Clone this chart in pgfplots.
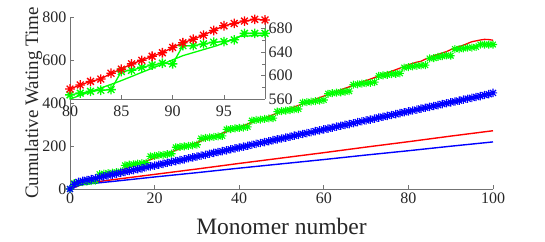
\documentclass[border=0pt]{standalone}
\usepackage{fontspec}
\setmainfont{Liberation Serif}
\usepackage{pgfplots}
\usepackage{pgfplotstable}
\pgfplotsset{compat=1.18}
\definecolor{axgray}{gray}{0.45}
\definecolor{txtgray}{gray}{0.15}
\definecolor{mred}{rgb}{1,0,0}
\definecolor{mgreen}{rgb}{0,1,0}
\definecolor{mblue}{rgb}{0,0,1}
\pgfdeclareplotmark{mstar}{%
  \pgfpathmoveto{\pgfqpoint{-\pgfplotmarksize}{0pt}}\pgfpathlineto{\pgfqpoint{\pgfplotmarksize}{0pt}}%
  \pgfpathmoveto{\pgfqpoint{0pt}{-\pgfplotmarksize}}\pgfpathlineto{\pgfqpoint{0pt}{\pgfplotmarksize}}%
  \pgfpathmoveto{\pgfqpoint{-0.707\pgfplotmarksize}{-0.707\pgfplotmarksize}}\pgfpathlineto{\pgfqpoint{0.707\pgfplotmarksize}{0.707\pgfplotmarksize}}%
  \pgfpathmoveto{\pgfqpoint{-0.707\pgfplotmarksize}{0.707\pgfplotmarksize}}\pgfpathlineto{\pgfqpoint{0.707\pgfplotmarksize}{-0.707\pgfplotmarksize}}%
  \pgfusepathqstroke}

% green stars (stepped)
\pgfplotstableread{
x y
0 0
1 27
2 30
3 32
4 34
5 37
6 39
7 69
8 71
9 74
10 76
11 78
12 81
13 110
14 113
15 115
16 118
17 120
18 122
19 152
20 154
21 157
22 159
23 162
24 164
25 194
26 196
27 198
28 201
29 203
30 206
31 235
32 238
33 240
34 242
35 245
36 247
37 277
38 279
39 282
40 284
41 286
42 289
43 318
44 321
45 323
46 326
47 328
48 330
49 360
50 362
51 365
52 367
53 370
54 372
55 402
56 404
57 406
58 409
59 411
60 414
61 443
62 446
63 448
64 450
65 453
66 455
67 485
68 487
69 490
70 492
71 494
72 497
73 526
74 529
75 531
76 534
77 536
78 538
79 565
80 567
81 570
82 573
83 575
84 576
85 607
86 609
87 614
88 618
89 621
90 620
91 651
92 651
93 654
94 657
95 658
96 661
97 672
98 672
99 672
100 672
}\greendata

% blue stars
\pgfplotstableread{
x y
0 0
1 22
2 33
3 38
4 42
5 46
6 50
7 54
8 59
9 63
10 67
11 71
12 75
13 80
14 84
15 88
16 92
17 96
18 101
19 105
20 109
21 113
22 117
23 122
24 126
25 130
26 134
27 138
28 143
29 147
30 151
31 155
32 159
33 164
34 168
35 172
36 176
37 180
38 185
39 189
40 193
41 197
42 201
43 206
44 210
45 214
46 218
47 222
48 227
49 231
50 235
51 239
52 243
53 248
54 252
55 256
56 260
57 264
58 269
59 273
60 277
61 281
62 285
63 290
64 294
65 298
66 302
67 306
68 311
69 315
70 319
71 323
72 327
73 332
74 336
75 340
76 344
77 348
78 353
79 357
80 361
81 365
82 369
83 374
84 378
85 382
86 386
87 390
88 395
89 399
90 403
91 407
92 411
93 416
94 420
95 424
96 428
97 432
98 437
99 441
100 447
}\bluedata

% red (upper) line
\pgfplotstableread{
x y
0 0
5 36
10 72
15 108
20 144
25 180
30 216
35 252
40 288
45 324
50 360
55 396
60 432
65 468
70 504
75 540
80 577
81 584
82 590
83 594
84 604
85 611
86 620
87 626
88 633
89 639
90 648
91 656
92 662
93 669
94 677
95 685
96 689
97 693
98 696
99 695
100 692
}\reddata

\begin{document}
\rmfamily
\begin{tikzpicture}[font=\rmfamily]
\path[use as bounding box] (-70pt,-52pt) rectangle (475pt,189pt);
\begin{axis}[
  at={(0pt,0pt)}, anchor=south west,
  scale only axis, width=423pt, height=172pt,
  xmin=0, xmax=100, ymin=0, ymax=800,
  axis x line*=bottom, axis y line*=left,
  axis line style={-, color=axgray, line width=0.7pt},
  xtick={0,20,...,100}, ytick={0,200,...,800},
  tick align=inside, major tick length=4pt,
  tick style={color=axgray, line width=0.7pt},
  tick label style={font=\rmfamily\fontsize{16}{16}\selectfont, text=txtgray},
  xticklabel={\pgfmathprintnumber[assume math mode=true]{\tick}},
  yticklabel={\pgfmathprintnumber[assume math mode=true]{\tick}},
  xlabel={Monomer number},
  ylabel={Cumulative Wating Time},
  xlabel style={font=\rmfamily\fontsize{23.5}{24}\selectfont, text=txtgray, at={(axis description cs:0.5,-0.267)}, anchor=base},
  ylabel style={font=\rmfamily\fontsize{19}{20}\selectfont, text=txtgray, at={(axis description cs:-0.086,0.5)}, anchor=center},
  clip=false,
]
\addplot[only marks, mark=mstar, mark size=4pt, color=mgreen, line width=1.1pt] table[x=x,y=y] {\greendata};
\addplot[color=mred, line width=1.3pt, no marks] table[x=x,y=y] {\reddata};
\addplot[color=mred, line width=1.4pt, no marks] coordinates {
(0,0) (2,21) (5,30) (10,43) (20,68) (30,93) (40,119) (50,144) (60,169) (70,195) (80,220) (90,246) (100,271)};
\addplot[color=mblue, line width=1.4pt, no marks] coordinates {
(0,0) (2,17) (5,25) (10,35) (20,56) (30,76) (40,97) (50,117) (60,137) (70,158) (80,178) (90,199) (100,219)};
\addplot[only marks, mark=mstar, mark size=4.2pt, color=mblue, line width=1.2pt] table[x=x,y=y] {\bluedata};
\end{axis}

\begin{axis}[
  at={(0pt,90pt)}, anchor=south west,
  scale only axis, width=195pt, height=82pt,
  xmin=80, xmax=99, ymin=560, ymax=700,
  axis x line*=bottom, axis y line*=right,
  axis line style={-, color=axgray, line width=0.7pt},
  xtick={80,85,90,95}, ytick={560,600,640,680}, minor ytick={580,620,660},
  tick align=inside, major tick length=4pt, minor tick length=3pt,
  tick style={color=axgray, line width=0.7pt},
  tick label style={font=\rmfamily\fontsize{16}{16}\selectfont, text=txtgray},
  xticklabel={\pgfmathprintnumber[assume math mode=true]{\tick}},
  yticklabel={\pgfmathprintnumber[assume math mode=true]{\tick}},
  xticklabel style={yshift=-3pt},
  clip=false,
]
\addplot[color=mgreen, line width=1.3pt, no marks] coordinates {
(80,560) (84.8,590) (89.2,621) (91,634) (94.3,651) (96.6,667) (99,669)};
\addplot[color=mgreen, line width=1.3pt, mark=mstar, mark size=4.8pt, mark options={line width=1.3pt}] table[x=x,y=y] {
x y
80 567
81 570
82 573
83 575
84 576
85 607
86 609
87 614
88 618
89 621
90 620
91 651
92 651
93 654
94 657
95 658
96 661
97 672
98 672
99 672
};
\addplot[color=mred, line width=1.3pt, mark=mstar, mark size=4.8pt, mark options={line width=1.3pt}] table[x=x,y=y] {
x y
80 577
81 584
82 590
83 594
84 604
85 611
86 620
87 626
88 633
89 639
90 648
91 656
92 662
93 669
94 677
95 685
96 689
97 693
98 696
99 695
};
\end{axis}
\end{tikzpicture}
\end{document}
